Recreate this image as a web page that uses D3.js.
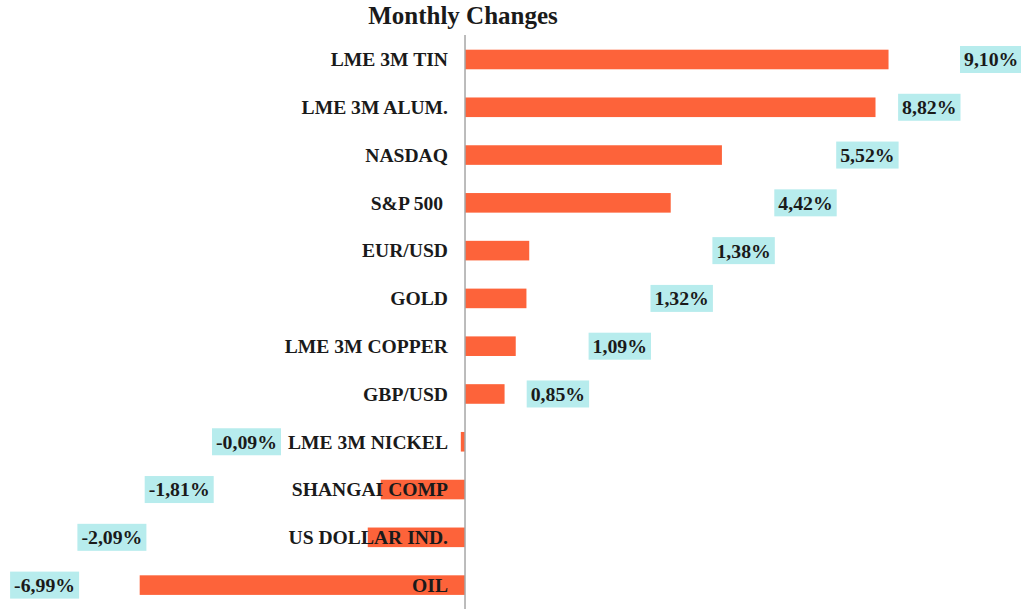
<!DOCTYPE html>
<html>
<head>
<meta charset="utf-8">
<script src="https://cdn.jsdelivr.net/npm/d3@7"></script>
<style>
  body { margin: 0; background: #fff; }
  svg { display: block; font-family: "Liberation Serif", "Times New Roman", serif; }
</style>
</head>
<body>
<svg id="chart"></svg>
<script>
// data
const categories = [
  "LME 3M TIN", "LME 3M ALUM.", "NASDAQ", "S&P 500 ", "EUR/USD", "GOLD",
  "LME 3M COPPER", "GBP/USD", "LME 3M NICKEL", "SHANGAI COMP", "US DOLLAR IND.", "OIL"
];
const changes = [9.10, 8.82, 5.52, 4.42, 1.38, 1.32, 1.09, 0.85, -0.09, -1.81, -2.09, -6.99];
const title = "Monthly Changes";

const w = 1021;
const h = 609;
const svg = d3.select("#chart").attr("width", w).attr("height", h);

// scales
const xScale = d3.scaleLinear([-10, 12], [-0.4, 1023.5]);
const yScale = d3.scaleBand(categories, [35.6, 609]).paddingInner(0.59).paddingOuter(0.295);
const x0 = xScale(0);

// title
svg.append("text")
  .attr("x", 463)
  .attr("y", 24)
  .attr("text-anchor", "middle")
  .attr("font-size", 25)
  .attr("font-weight", "bold")
  .attr("fill", "#1a1a1a")
  .text(title);

// bars
svg.selectAll("rect.bar")
  .data(changes)
  .enter()
  .append("rect")
  .attr("class", "bar")
  .attr("x", (d) => Math.min(xScale(d), x0))
  .attr("y", (d, i) => yScale(categories[i]))
  .attr("width", (d) => Math.abs(xScale(d) - x0))
  .attr("height", yScale.bandwidth())
  .attr("fill", "#fd633a");

// zero axis line
svg.append("line")
  .attr("x1", x0).attr("x2", x0)
  .attr("y1", 35).attr("y2", h)
  .attr("stroke", "#a6a6a6")
  .attr("stroke-width", 1.5);

// category labels (drawn over the bars)
svg.selectAll("text.cat")
  .data(categories)
  .enter()
  .append("text")
  .attr("class", "cat")
  .attr("x", x0 - 17)
  .attr("y", (d) => yScale(d) + yScale.bandwidth() / 2)
  .attr("dy", "0.35em")
  .attr("text-anchor", "end")
  .attr("font-size", 19.6)
  .attr("font-weight", "bold")
  .attr("fill", "#1a1a1a")
  .style("white-space", "pre")
  .text((d) => d);

// value labels - staggered like the dragged excel labels
const fmt = (v) => d3.format(".2f")(v).replace(".", ",").replace("−", "-") + "%";
let posIdx = 0, negIdx = 0;
const labelLeft = changes.map((v) => (v >= 0 ? 960 - 61.9 * posIdx++ : 212 - 67.3 * negIdx++));

const lab = svg.selectAll("g.val")
  .data(changes)
  .enter()
  .append("g")
  .attr("class", "val")
  .attr("transform", (d, i) => "translate(" + labelLeft[i] + "," + (yScale(categories[i]) + yScale.bandwidth() / 2) + ")");

const boxes = lab.append("rect").attr("fill", "#b7eced");
const texts = lab.append("text")
  .attr("x", 4)
  .attr("dy", "0.35em")
  .attr("font-size", 19.8)
  .attr("font-weight", "bold")
  .attr("fill", "#1a1a1a")
  .text((d) => fmt(d));

texts.each(function (d, i) {
  const bb = this.getBBox();
  d3.select(boxes.nodes()[i])
    .attr("x", 0)
    .attr("y", -13.5)
    .attr("width", bb.width + 8)
    .attr("height", 27);
});
</script>
</body>
</html>
